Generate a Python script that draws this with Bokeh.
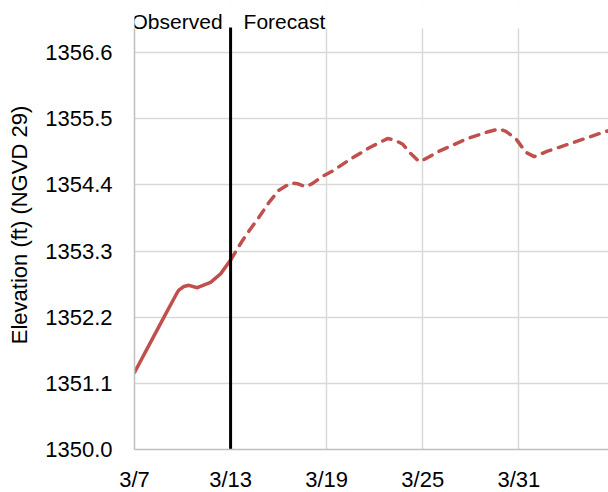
from bokeh.plotting import figure
from bokeh.models import FixedTicker, Label, BoxAnnotation
from bokeh.embed import file_html
from bokeh.resources import INLINE

# Days after 3/7
obs_days = [0, 1.0, 2.0, 2.67, 2.77, 3.08, 3.4, 3.92, 4.75, 5.375, 6.0]
obs_vals = [1351.28, 1351.78, 1352.28, 1352.61, 1352.65, 1352.71, 1352.73, 1352.69, 1352.78,
            1352.92, 1353.15]

fc_days = [6.0, 6.73, 7.25, 7.77, 8.4, 9.02, 9.75, 10.17, 10.69, 11.1, 11.73, 12.36, 13.5,
           14.75, 15.8, 16.2, 16.73, 17.25, 17.77, 18.08, 19.1, 20.8, 22.04, 22.77, 23.19,
           23.81, 24.44, 24.96, 25.79, 27.25, 29.33, 29.6]
fc_vals = [1353.15, 1353.47, 1353.67, 1353.86, 1354.11, 1354.31, 1354.43, 1354.42, 1354.37,
           1354.42, 1354.54, 1354.63, 1354.83, 1355.03, 1355.17, 1355.15, 1355.08, 1354.92,
           1354.79, 1354.82, 1354.97, 1355.17, 1355.28, 1355.33, 1355.29, 1355.17, 1354.94,
           1354.87, 1354.96, 1355.09, 1355.28, 1355.30]

x_ticks = [0, 6, 12, 18, 24]
x_tick_labels = ["3/7", "3/13", "3/19", "3/25", "3/31"]
y_ticks = [1350.0, 1351.1, 1352.2, 1353.3, 1354.4, 1355.5, 1356.6]
y_tick_labels = ["1350.0", "1351.1", "1352.2", "1353.3", "1354.4", "1355.5", "1356.6"]
divider_day = 6
header_left = "Observed"
header_right = "Forecast"
y_label = "Elevation (ft) (NGVD 29)"

X_MAX = 29.6
Y_MIN, Y_MAX = 1350.0, 1357.0

FONT = "Liberation Sans"
RED = "#c0504d"

PLOT_H = 421          # pixel height of the charted area
HEAD_H = 28           # header strip above it, inside the frame
px_per_unit = PLOT_H / (Y_MAX - Y_MIN)
y_top = Y_MAX + HEAD_H / px_per_unit

p = figure(frame_width=474, frame_height=PLOT_H + HEAD_H, min_border_left=134, min_border_top=0,
           min_border_bottom=43, min_border_right=0,
           x_range=(0, X_MAX), y_range=(Y_MIN, y_top),
           output_backend="svg", toolbar_location=None, tools="")
p.outline_line_color = None
p.background_fill_color = "white"
p.border_fill_color = "white"

p.xaxis.ticker = FixedTicker(ticks=x_ticks)
p.xaxis.major_label_overrides = {t: l for t, l in zip(x_ticks, x_tick_labels)}
p.yaxis.ticker = FixedTicker(ticks=y_ticks)
p.yaxis.major_label_overrides = {t: l for t, l in zip(y_ticks, y_tick_labels)}
p.yaxis.bounds = (Y_MIN, Y_MAX)

for ax in (p.xaxis[0], p.yaxis[0]):
    ax.major_tick_line_color = None
    ax.minor_tick_line_color = None
    ax.axis_line_color = "#bfbfbf"
    ax.axis_line_width = 1.5
    ax.major_label_text_font = FONT
    ax.major_label_text_font_size = "22px"
    ax.major_label_text_color = "black"
    ax.major_tick_out = 0
    ax.major_tick_in = 0

p.xaxis.major_label_standoff = 17
p.yaxis.major_label_standoff = 22
p.yaxis.axis_label = y_label
p.yaxis.axis_label_text_font = FONT
p.yaxis.axis_label_text_font_size = "22px"
p.yaxis.axis_label_text_font_style = "normal"
p.yaxis.axis_label_text_color = "black"
p.yaxis.axis_label_standoff = 10

p.xgrid.ticker = FixedTicker(ticks=x_ticks)
p.ygrid.ticker = FixedTicker(ticks=y_ticks)
p.grid.grid_line_color = "#d9d9d9"
p.grid.grid_line_width = 1.5

# white strip that hides the gridlines in the header area
p.add_layout(BoxAnnotation(bottom=Y_MAX, fill_color="white", fill_alpha=1.0,
                           line_color=None, level="underlay"))

p.line(obs_days, obs_vals, line_color=RED, line_width=3.5, line_join="round", line_cap="round")
p.line(fc_days, fc_vals, line_color=RED, line_width=3.5, line_dash="9 8", line_join="round",
       line_cap="round")

# Observed / Forecast divider
p.segment(x0=[divider_day], y0=[Y_MIN], x1=[divider_day], y1=[Y_MAX + 1 / px_per_unit],
          line_color="black", line_width=3)

head_y = Y_MAX + 7 / px_per_unit
p.add_layout(Label(x=divider_day, y=head_y, x_offset=-8, text=header_left,
                   text_align="right", text_baseline="alphabetic", text_font=FONT,
                   text_font_size="21px", text_color="black"))
p.add_layout(Label(x=divider_day, y=head_y, x_offset=13, text=header_right,
                   text_align="left", text_baseline="alphabetic", text_font=FONT,
                   text_font_size="21px", text_color="black"))

open("out.html", "w").write(file_html(p, INLINE))
